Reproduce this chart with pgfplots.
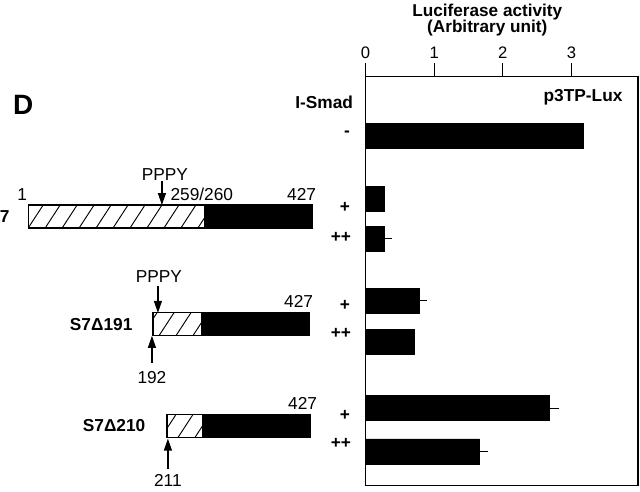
\documentclass[border=0pt]{standalone}
\usepackage{pgfplots}
\pgfplotsset{compat=1.18}
\usepackage{fontspec}
\setmainfont{Liberation Sans}
\usetikzlibrary{arrows.meta}

\pgfplotstableread{
y     x     err
134.7 3.17  0
197.5 0.28  0
237.5 0.27  0.03
299.8 0.79  0.02
340.8 0.71  0
407.5 2.67  0.06
450.8 1.66  0.04
}\lux

\newcommand{\txt}{\fontsize{13}{15}\selectfont}
\newcommand{\btxt}{\fontsize{13}{15}\selectfont\bfseries}

\begin{document}
\begin{tikzpicture}
\begin{axis}[
  at={(0,0)}, anchor=north west,
  scale only axis,
  width=204.75pt, height=307.5pt,
  xmin=0, xmax=3.97,
  ymin=75, ymax=485, y dir=reverse,
  xtick={0,1,2,3}, ytick=\empty,
  xtick pos=right, xticklabel pos=right,
  tick align=outside,
  major tick length=9.75pt,
  tick style={black, line width=0.9pt},
  axis line style={line width=0.9pt},
  xticklabel style={font=\fontsize{12.5}{14}\selectfont},
  /pgf/number format/assume math mode=true,
  xbar, bar width=25, bar shift=0pt,
]
  \addplot[fill=black, draw=black,
    error bars/.cd, x dir=plus, x explicit,
    error bar style={line width=1pt},
    error mark options={line width=1pt, mark size=4.5pt}]
    table[x=x, y=y, x error=err] {\lux};
\end{axis}

\begin{scope}[x=0.75pt, y=-0.75pt, shift={(-365,-75)}, line width=0.9pt]
  \path (0,0) rectangle (640,489);
  % titles and labels
  \node[font=\fontsize{12.9}{15}\selectfont\bfseries] at (487,11) {Luciferase activity};
  \node[font=\fontsize{12.9}{15}\selectfont\bfseries] at (487,27) {(Arbitrary unit)};
  \node[font=\fontsize{21}{24}\selectfont\bfseries] at (22,104) {D};
  \begin{scope}[every node/.style={font=\btxt, anchor=east, inner sep=0pt}]
    \node at (353,101) {I-Smad};
    \node at (623,96) {p3TP-Lux};
    \node at (350,133) {-};
    \node at (350,206) {+};
    \node at (351,236) {++};
    \node at (350,305) {+};
    \node at (351,333) {++};
    \node at (350,415) {+};
    \node at (351,443) {++};
    \node at (9,216) {7};
    \node at (132,324) {S7Δ191};
    \node at (145,425) {S7Δ210};
  \end{scope}

  % construct 7 (full length)
  \begin{scope}
    \clip (27,204) rectangle (203,227);
    \foreach \h in {10,27,...,220} \draw[line width=0.7pt] (\h,227) -- (\h+15,204);
  \end{scope}
  \fill[black] (203,204) rectangle (312,227);
  \draw (27,204) rectangle (312,227);
  \node[font=\txt] at (21,193) {1};
  \node[font=\txt] at (201,193) {259/260};
  \node[font=\txt] at (301,193) {427};
  \node[font=\txt] at (164,173) {PPPY};
  \draw[-{Triangle[width=6pt,length=9pt]}] (161,180) -- (161,204);

  % construct S7 delta 191
  \begin{scope}
    \clip (152,312) rectangle (200,335);
    \foreach \h in {141,158,...,210} \draw[line width=0.7pt] (\h,335) -- (\h+15,312);
  \end{scope}
  \fill[black] (200,312) rectangle (309,335);
  \draw (152,312) rectangle (309,335);
  \node[font=\txt] at (298,301) {427};
  \node[font=\txt] at (158,276) {PPPY};
  \draw[-{Triangle[width=6pt,length=9pt]}] (157,285) -- (157,312);
  \draw[-{Triangle[width=6pt,length=9pt]}] (151,362) -- (151,335);
  \node[font=\txt] at (151,377) {192};

  % construct S7 delta 210
  \begin{scope}
    \clip (166,414) rectangle (201,437);
    \foreach \h in {160,177,...,210} \draw[line width=0.7pt] (\h,437) -- (\h+15,414);
  \end{scope}
  \fill[black] (201,414) rectangle (310,437);
  \draw (166,414) rectangle (310,437);
  \node[font=\txt] at (302,403) {427};
  \draw[-{Triangle[width=6pt,length=9pt]}] (167,468) -- (167,438);
  \node[font=\txt] at (167,480) {211};
\end{scope}
\end{tikzpicture}
\end{document}
